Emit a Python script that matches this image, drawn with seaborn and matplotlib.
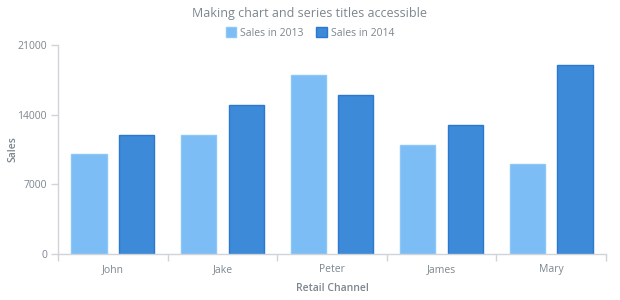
import matplotlib
matplotlib.use("Agg")
import matplotlib.pyplot as plt
import seaborn as sns
import pandas as pd
from matplotlib.patches import Patch

categories = ["John", "Jake", "Peter", "James", "Mary"]
sales_2013 = [10000, 12000, 18000, 11000, 9000]
sales_2014 = [12000, 15000, 16000, 13000, 19000]
series_names = ["Sales in 2013", "Sales in 2014"]
y_ticks = [0, 7000, 14000, 21000]

df = pd.DataFrame({
    "Retail Channel": categories * 2,
    "Sales": sales_2013 + sales_2014,
    "Series": [series_names[0]] * len(categories) + [series_names[1]] * len(categories),
})

sns.set_theme(style="white")
plt.rcParams["font.family"] = ["Open Sans", "DejaVu Sans"]

fill_colors = ["#7dbdf5", "#3d8ad8"]
edge_colors = ["#8cc7f8", "#2a78d0"]
txt = "#7c868e"
axis_col = "#d0d4d8"

fig = plt.figure(figsize=(6.2, 3.0), dpi=100)
ax = fig.add_axes([58 / 620, 1 - 254 / 300, 548 / 620, 209 / 300])

sns.barplot(data=df, x="Retail Channel", y="Sales", hue="Series",
            palette=fill_colors, width=0.87, gap=0.26, ax=ax,
            legend=False, saturation=1, errorbar=None)

for i, cont in enumerate(ax.containers):
    for bar in cont:
        bar.set_edgecolor(edge_colors[i])
        bar.set_linewidth(1.0)

ax.set_xlim(-0.5, len(categories) - 0.5)
ax.set_ylim(0, 21000)
ax.set_yticks(y_ticks)
ax.set_yticklabels([str(v) for v in y_ticks])

for s in ["top", "right"]:
    ax.spines[s].set_visible(False)
for s in ["left", "bottom"]:
    ax.spines[s].set_color(axis_col)
    ax.spines[s].set_linewidth(1.0)

ax.tick_params(axis="y", which="major", length=5, width=1, color=axis_col,
               labelsize=7.5, labelcolor=txt, pad=3, left=True)
ax.tick_params(axis="x", which="major", length=0, labelsize=7.5, labelcolor=txt, pad=7)
ax.set_xticks([i - 0.5 for i in range(len(categories) + 1)], minor=True)
ax.tick_params(axis="x", which="minor", length=5, width=1, color=axis_col, bottom=True)

ax.set_xlabel("Retail Channel", fontsize=7.5, color=txt, fontweight="semibold", labelpad=6)
ax.set_ylabel("Sales", fontsize=7.5, color=txt, fontweight="semibold")
ax.yaxis.set_label_coords((18 - 58) / 548, 0.5)

fig.text(0.5, 1 - 14 / 300, "Making chart and series titles accessible",
         ha="center", va="center", fontsize=9, color=txt)

handles = [Patch(facecolor=fill_colors[i], edgecolor=edge_colors[i], label=series_names[i])
           for i in range(2)]
leg = fig.legend(handles=handles, loc="center", bbox_to_anchor=(0.5, 1 - 33 / 300),
                 ncol=2, frameon=False, fontsize=7.5, handlelength=1.0, handleheight=1.0,
                 handletextpad=0.4, columnspacing=1.2, labelcolor=txt)

fig.savefig("out.png", dpi=100)
